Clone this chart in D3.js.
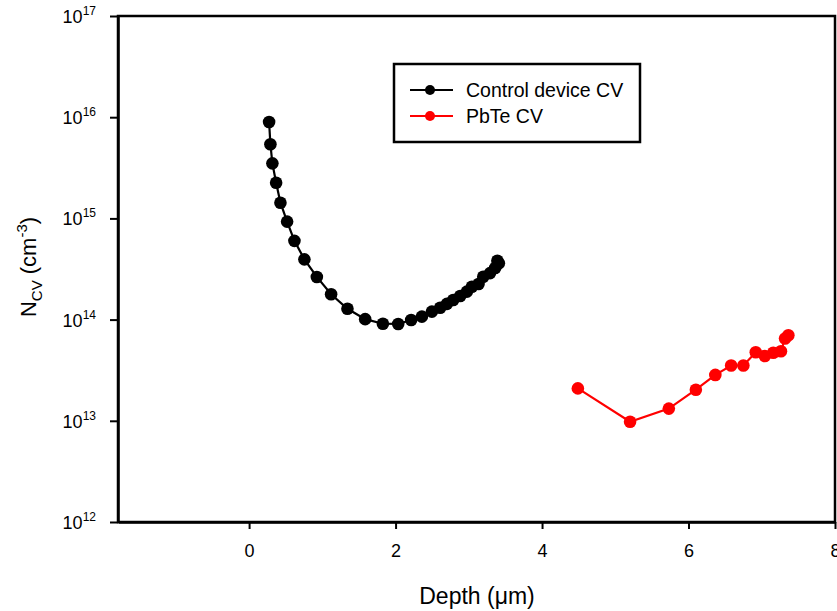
<!DOCTYPE html>
<html>
<head>
<meta charset="utf-8">
<script src="https://cdn.jsdelivr.net/npm/d3@7"></script>
<style>
  body { margin: 0; background: #fff; }
  svg { font-family: "Liberation Sans", Arial, sans-serif; }
</style>
</head>
<body>
<svg id="chart" width="837" height="611"></svg>
<script>
// Carrier concentration profiles from C-V measurements
const controlDepth = [0.273, 0.291, 0.318, 0.369, 0.428, 0.519, 0.619, 0.755, 0.925, 1.120,
  1.343, 1.585, 1.827, 2.036, 2.213, 2.359, 2.496, 2.609, 2.701, 2.787, 2.883, 2.974, 3.042,
  3.133, 3.197, 3.290, 3.360, 3.410, 3.390];
const controlN = [8.97e15, 5.4e15, 3.5e15, 2.25e15, 1.43e15, 9.3e14, 6.0e14, 3.94e14, 2.64e14, 1.78e14,
  1.28e14, 1.01e14, 9.1e13, 9.06e13, 9.9e13, 1.07e14, 1.2e14, 1.31e14, 1.43e14, 1.56e14, 1.71e14, 1.89e14, 2.11e14,
  2.25e14, 2.65e14, 2.88e14, 3.24e14, 3.6e14, 3.82e14];

const pbteDepth = [4.489, 5.202, 5.731, 6.100, 6.366, 6.582, 6.749, 6.918, 7.042, 7.157, 7.262, 7.318, 7.363];
const pbteN = [2.09e13, 9.8e12, 1.32e13, 2.03e13, 2.84e13, 3.52e13, 3.52e13, 4.75e13, 4.37e13, 4.71e13, 4.86e13, 6.5e13, 7.0e13];

const xTicks = [0, 2, 4, 6, 8];
const yExponents = [12, 13, 14, 15, 16, 17];

const seriesNames = ["Control device CV", "PbTe CV"];
const seriesColors = ["#000000", "#ff0000"];

const svg = d3.select("#chart");
const plotLeft = 118, plotRight = 835, plotTop = 16, plotBottom = 522;

const x = d3.scaleLinear().domain([-1.79, 8]).range([plotLeft, plotRight]);
const y = d3.scaleLog().domain([1e12, 1e17]).range([plotBottom, plotTop]);

// Frame (top and right spines)
svg.append("rect")
  .attr("x", plotLeft).attr("y", plotTop)
  .attr("width", plotRight - plotLeft).attr("height", plotBottom - plotTop)
  .attr("fill", "none").attr("stroke", "#000").attr("stroke-width", 2.5);

// X axis
const xAxis = svg.append("g")
  .attr("transform", `translate(0,${plotBottom})`)
  .call(d3.axisBottom(x).tickValues(xTicks).tickSize(7).tickSizeOuter(0).tickFormat(d3.format("d")));
xAxis.select(".domain").attr("stroke-width", 2.5);
xAxis.selectAll(".tick line").attr("stroke-width", 2);
xAxis.selectAll(".tick text")
  .attr("font-size", 18).attr("y", 22).attr("dy", "0.71em").attr("fill", "#000")
  .style("font-family", "Liberation Sans, Arial, sans-serif");

// Y axis (log, powers of ten)
const yAxis = svg.append("g")
  .attr("transform", `translate(${plotLeft},0)`)
  .call(d3.axisLeft(y).tickValues(yExponents.map(e => Math.pow(10, e))).tickSize(8).tickSizeOuter(0).tickFormat(""));
yAxis.select(".domain").attr("stroke-width", 2.5);
yAxis.selectAll(".tick line").attr("stroke-width", 2);

const yLabels = svg.append("g");
yExponents.forEach(e => {
  const t = yLabels.append("text")
    .attr("x", 96).attr("y", y(Math.pow(10, e)) + 7)
    .attr("text-anchor", "end").attr("font-size", 18).attr("fill", "#000");
  t.append("tspan").text("10");
  t.append("tspan").attr("font-size", 12).attr("dy", -8).text(String(e));
});

// Axis titles
svg.append("text")
  .attr("x", 477).attr("y", 604)
  .attr("text-anchor", "middle").attr("font-size", 23)
  .text("Depth (μm)");

const yTitle = svg.append("text")
  .attr("transform", "translate(36,267) rotate(-90)")
  .attr("text-anchor", "middle").attr("font-size", 22);
yTitle.append("tspan").text("N");
yTitle.append("tspan").attr("font-size", 15).attr("dy", 6).text("CV");
yTitle.append("tspan").attr("dy", -6).text(" (cm");
yTitle.append("tspan").attr("font-size", 15).attr("dy", -9).text("-3");
yTitle.append("tspan").attr("dy", 9).text(")");

// Data series
const series = [
  { depth: controlDepth, n: controlN, color: seriesColors[0] },
  { depth: pbteDepth, n: pbteN, color: seriesColors[1] }
];

const line = d3.line().x(d => x(d[0])).y(d => y(d[1]));

series.forEach(s => {
  const pts = s.depth.map((d, i) => [d, s.n[i]]);
  svg.append("path")
    .datum(pts)
    .attr("d", line)
    .attr("fill", "none").attr("stroke", s.color).attr("stroke-width", 2.2);
  svg.append("g").selectAll("circle")
    .data(pts).join("circle")
    .attr("cx", d => x(d[0])).attr("cy", d => y(d[1]))
    .attr("r", 6.3).attr("fill", s.color);
});

// Legend
const legend = svg.append("g");
legend.append("rect")
  .attr("x", 394).attr("y", 64).attr("width", 246).attr("height", 78)
  .attr("fill", "#fff").attr("stroke", "#000").attr("stroke-width", 2.5);
seriesNames.forEach((name, i) => {
  const ly = 90 + i * 26;
  legend.append("line")
    .attr("x1", 410).attr("x2", 453).attr("y1", ly).attr("y2", ly)
    .attr("stroke", seriesColors[i]).attr("stroke-width", 2.2);
  legend.append("circle")
    .attr("cx", 430).attr("cy", ly).attr("r", 5).attr("fill", seriesColors[i]);
  legend.append("text")
    .attr("x", 466).attr("y", ly + 7)
    .attr("font-size", 19.5).attr("fill", "#000")
    .text(name);
});
</script>
</body>
</html>
